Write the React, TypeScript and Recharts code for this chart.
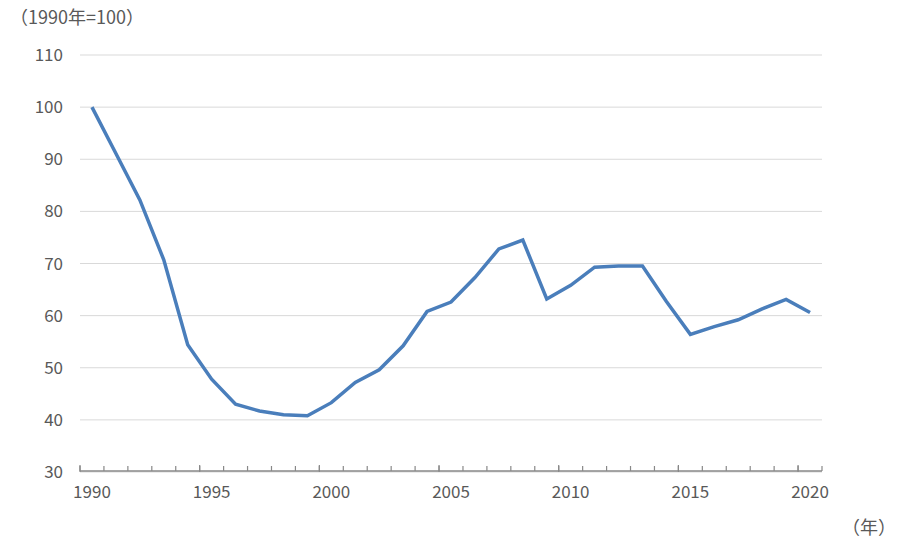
import { LineChart, Line, XAxis, YAxis, CartesianGrid } from "recharts";

const years: number[] = [
  1990, 1991, 1992, 1993, 1994, 1995, 1996, 1997, 1998, 1999,
  2000, 2001, 2002, 2003, 2004, 2005, 2006, 2007, 2008, 2009,
  2010, 2011, 2012, 2013, 2014, 2015, 2016, 2017, 2018, 2019, 2020,
];

// 1990年=100 の指数
const indexValues: number[] = [
  100, 91.1, 82.2, 70.7, 54.4, 47.8, 43.0, 41.7, 41.0, 40.8,
  43.3, 47.2, 49.6, 54.2, 60.8, 62.6, 67.3, 72.8, 74.5, 63.2,
  65.8, 69.3, 69.5, 69.5, 62.7, 56.4, 57.9, 59.2, 61.3, 63.1, 60.6,
];

const yTicks: number[] = [30, 40, 50, 60, 70, 80, 90, 100, 110];
const yearLabels: number[] = [1990, 1995, 2000, 2005, 2010, 2015, 2020];

const data = years.map((year, i) => ({ year, value: indexValues[i] }));

// 目盛り線は年と年の境目に置く（5年ごとに少し長く）
const boundaryTicks = [...years.map((y) => y - 0.5), years[years.length - 1] + 0.5];
const majorTicks = boundaryTicks.filter((b) => (b + 0.5) % 5 === 0);
const xDomain: [number, number] = [years[0] - 0.5, years[years.length - 1] + 0.5];

const FONT = '"Noto Sans CJK JP", "Noto Sans", sans-serif';
const TEXT = "#595959";
const AXIS = "#888888";

export default function App() {
  return (
    <div
      style={{
        position: "absolute",
        left: 0,
        top: 0,
        width: 900,
        height: 549,
        background: "#fff",
        fontFamily: FONT,
      }}
    >
      <div
        style={{
          position: "absolute",
          left: 10,
          top: 3,
          fontSize: 18,
          color: TEXT,
          whiteSpace: "nowrap",
        }}
      >
        （1990年=100）
      </div>
      <div
        style={{
          position: "absolute",
          left: 842,
          top: 513,
          fontSize: 18,
          color: TEXT,
          whiteSpace: "nowrap",
        }}
      >
        （年）
      </div>
      <LineChart
        width={900}
        height={549}
        data={data}
        margin={{ top: 55, right: 78, bottom: 37, left: 0 }}
      >
        <CartesianGrid
          vertical={false}
          stroke="#d9d9d9"
          strokeWidth={1}
          xAxisId="main"
        />
        <XAxis
          xAxisId="ticks"
          type="number"
          dataKey="year"
          domain={xDomain}
          allowDataOverflow
          ticks={boundaryTicks}
          interval={0}
          height={1}
          mirror
          axisLine={{ stroke: AXIS, strokeWidth: 1.5 }}
          tickSize={5}
          tickLine={{ stroke: AXIS, strokeWidth: 1.2 }}
          tick={() => <g />}
        />
        <XAxis
          xAxisId="major"
          type="number"
          dataKey="year"
          domain={xDomain}
          allowDataOverflow
          ticks={majorTicks}
          interval={0}
          height={1}
          mirror
          axisLine={false}
          tickSize={7}
          tickLine={{ stroke: AXIS, strokeWidth: 1.2 }}
          tick={() => <g />}
        />
        <XAxis
          xAxisId="main"
          type="number"
          dataKey="year"
          domain={xDomain}
          allowDataOverflow
          ticks={yearLabels}
          interval={0}
          height={40}
          axisLine={false}
          tickLine={false}
          tickSize={0}
          tickMargin={14}
          tick={{ fill: TEXT, fontSize: 17, fontFamily: FONT }}
        />
        <YAxis
          type="number"
          domain={[30, 110]}
          ticks={yTicks}
          interval={0}
          width={80}
          axisLine={false}
          tickLine={false}
          tickSize={0}
          tickMargin={17}
          tick={{ fill: TEXT, fontSize: 17, fontFamily: FONT }}
        />
        <Line
          xAxisId="main"
          type="linear"
          dataKey="value"
          stroke="#4a7ebb"
          strokeWidth={3.5}
          dot={false}
          isAnimationActive={false}
        />
      </LineChart>
    </div>
  );
}
